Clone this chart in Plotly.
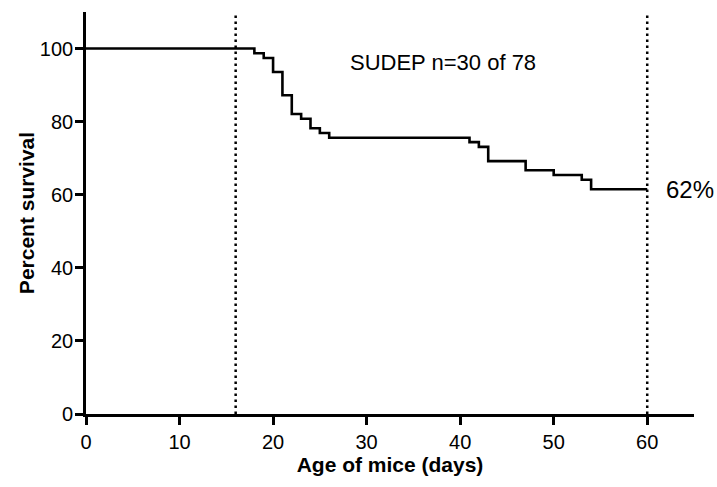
import plotly.graph_objects as go

# Kaplan-Meier survival (percent) by age in days
days = [0, 18, 19, 20, 21, 22, 23, 24, 25, 26, 41, 42, 43, 47, 50, 53, 54, 60]
survival = [100, 98.7, 97.4, 93.6, 87.2, 82.1, 80.8, 78.2, 76.9, 75.6,
            74.4, 73.1, 69.2, 66.7, 65.4, 64.1, 61.5, 61.5]
marker_days = [16, 60]
x_ticks = [0, 10, 20, 30, 40, 50, 60]
y_ticks = [0, 20, 40, 60, 80, 100]
annotation_text = "SUDEP n=30 of 78"
final_label = "62%"

FONT = "Liberation Sans, Arial, Helvetica, sans-serif"

fig = go.Figure()
fig.add_trace(go.Scatter(
    x=days, y=survival, mode="lines", line_shape="hv",
    line=dict(color="black", width=2.6), showlegend=False, hoverinfo="skip"))

for d in marker_days:
    fig.add_shape(type="line", xref="x", yref="y", x0=d, x1=d, y0=0, y1=110,
                  line=dict(color="black", width=2.5, dash="2.5px,3.5px"))

fig.add_annotation(x=38.2, y=96.3, xref="x", yref="y", text=annotation_text,
                   showarrow=False, font=dict(family=FONT, size=22, color="black"))
fig.add_annotation(x=61.8, y=survival[-1], xref="x", yref="y", text=final_label,
                   showarrow=False, xanchor="left",
                   font=dict(family=FONT, size=24, color="black"))

axis_common = dict(showline=True, linecolor="black", linewidth=2.6,
                   ticks="outside", ticklen=8, tickwidth=2.6, tickcolor="black",
                   showgrid=False, zeroline=False, automargin=False,
                   tickfont=dict(family=FONT, size=20, color="black"))

fig.update_xaxes(range=[0, 65], tickvals=x_ticks, **axis_common,
                 title=dict(text="<b>Age of mice (days)</b>", standoff=6,
                            font=dict(family=FONT, size=21, color="black")))
fig.update_yaxes(range=[0, 110], tickvals=y_ticks, ticklabelstandoff=-2,
                 **axis_common,
                 title=dict(text="<b>Percent survival</b>", standoff=0,
                            font=dict(family=FONT, size=21, color="black")))

fig.update_layout(width=717, height=487, margin=dict(l=86, r=23, t=12, b=73),
                  plot_bgcolor="white", paper_bgcolor="white")
fig.update_traces(cliponaxis=False)

fig.write_html("out.html")
